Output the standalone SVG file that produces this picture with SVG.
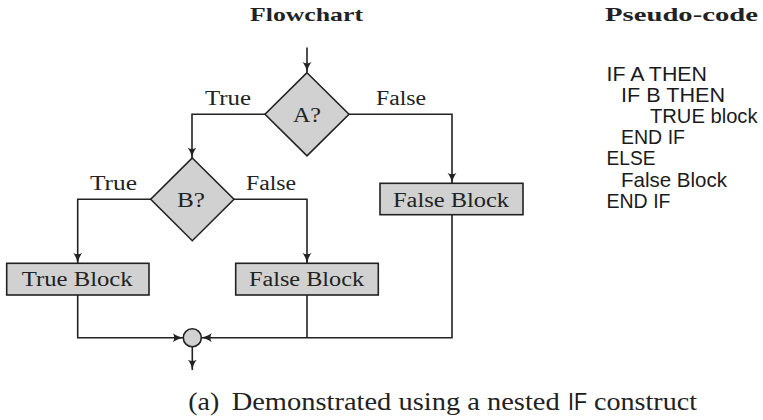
<svg xmlns="http://www.w3.org/2000/svg" width="763" height="420" viewBox="0 0 763 420">
  <style>
    .shape { fill: #d0d1d0; stroke: #222; stroke-width: 1.6; }
    .wire { fill: none; stroke: #222; stroke-width: 1.6; marker-end: url(#tip); }
    .plain { fill: none; stroke: #222; stroke-width: 1.6; }
    .serif { font-family: "Liberation Serif", "DejaVu Serif", serif; fill: #222; }
    .label { font-size: 20px; }
    .title { font-size: 19.5px; font-weight: bold; }
    .code { font-family: "Liberation Sans", Arial, sans-serif; font-size: 21px; fill: #1a1a1a; }
    .cap { font-size: 25.5px; }
  </style>
  <defs>
    <marker id="tip" viewBox="0 0 10 10" refX="9.5" refY="5" markerWidth="11" markerHeight="11" markerUnits="userSpaceOnUse" orient="auto">
      <path d="M0,0.8 Q3.5,4 10,5 Q3.5,6 0,9.2 Q2.5,5 0,0.8 Z" fill="#222"/>
    </marker>
  </defs>

  <rect width="763" height="420" fill="#fff"/>

  <!-- headings -->
  <text class="serif title" x="250" y="20.7" textLength="113" lengthAdjust="spacingAndGlyphs">Flowchart</text>
  <text class="serif title" x="605" y="20.5" textLength="153" lengthAdjust="spacingAndGlyphs">Pseudo-code</text>

  <!-- connectors -->
  <g id="connectors">
    <path class="wire" d="M307,47.5 V72.5"/>
    <path class="wire" d="M265,114.3 H192 V158"/>
    <path class="wire" d="M349,114.3 H452 V183.3"/>
    <path class="wire" d="M151,199.3 H77.7 V263.3"/>
    <path class="wire" d="M234,199.3 H307 V263.3"/>
    <path class="wire" d="M77.7,295 V337.7 H183.3"/>
    <path class="plain" d="M307,295 V337.7"/>
    <path class="wire" d="M452,214.7 V337.7 H201.3"/>
    <path class="wire" d="M192.3,346.7 V370"/>
    <text class="serif label" x="205" y="105" textLength="46" lengthAdjust="spacingAndGlyphs">True</text>
    <text class="serif label" x="376" y="105" textLength="50" lengthAdjust="spacingAndGlyphs">False</text>
    <text class="serif label" x="90" y="190" textLength="47" lengthAdjust="spacingAndGlyphs">True</text>
    <text class="serif label" x="246" y="190" textLength="50" lengthAdjust="spacingAndGlyphs">False</text>
  </g>

  <!-- decision A -->
  <g id="decisionA">
    <polygon class="shape" points="307,72.7 349,114.3 307,155.9 265,114.3"/>
    <text class="serif label" x="293" y="121.5" textLength="28" lengthAdjust="spacingAndGlyphs">A?</text>
  </g>

  <!-- decision B -->
  <g id="decisionB">
    <polygon class="shape" points="192.3,158 234,199.3 192.3,240.7 150.7,199.3"/>
    <text class="serif label" x="177" y="206.5" textLength="28" lengthAdjust="spacingAndGlyphs">B?</text>
  </g>

  <!-- true block -->
  <g id="trueBlock">
    <rect class="shape" x="6.7" y="263.3" width="142.3" height="31.7"/>
    <text class="serif label" x="21.7" y="286" textLength="111" lengthAdjust="spacingAndGlyphs">True Block</text>
  </g>

  <!-- inner false block -->
  <g id="falseBlockB">
    <rect class="shape" x="235.7" y="263.3" width="142.6" height="31.7"/>
    <text class="serif label" x="249" y="286.3" textLength="115" lengthAdjust="spacingAndGlyphs">False Block</text>
  </g>

  <!-- outer false block -->
  <g id="falseBlockA">
    <rect class="shape" x="380" y="183.3" width="143" height="31.4"/>
    <text class="serif label" x="393" y="206.8" textLength="116" lengthAdjust="spacingAndGlyphs">False Block</text>
  </g>

  <!-- merge point -->
  <g id="merge">
    <circle class="shape" cx="192.3" cy="337.7" r="9"/>
  </g>

  <!-- pseudo-code listing -->
  <g id="pseudocode" class="code">
    <text x="606.5" y="81" textLength="100.5" lengthAdjust="spacingAndGlyphs">IF A THEN</text>
    <text x="621" y="102.1" textLength="104" lengthAdjust="spacingAndGlyphs">IF B THEN</text>
    <text x="650" y="123.2" textLength="107.5" lengthAdjust="spacingAndGlyphs">TRUE block</text>
    <text x="621" y="144.3" textLength="64" lengthAdjust="spacingAndGlyphs">END IF</text>
    <text x="606.5" y="165.4" textLength="49" lengthAdjust="spacingAndGlyphs">ELSE</text>
    <text x="621" y="186.5" textLength="106" lengthAdjust="spacingAndGlyphs">False Block</text>
    <text x="606.5" y="207.6" textLength="64" lengthAdjust="spacingAndGlyphs">END IF</text>
  </g>

  <!-- caption -->
  <g id="caption">
    <text class="serif cap" x="188.3" y="410" textLength="31" lengthAdjust="spacingAndGlyphs">(a)</text>
    <text class="serif cap" x="231.7" y="410" textLength="328" lengthAdjust="spacingAndGlyphs">Demonstrated using a nested</text>
    <text class="code" x="568" y="410" style="font-size:24px" textLength="19" lengthAdjust="spacingAndGlyphs">IF</text>
    <text class="serif cap" x="594" y="410" textLength="103" lengthAdjust="spacingAndGlyphs">construct</text>
  </g>
</svg>
